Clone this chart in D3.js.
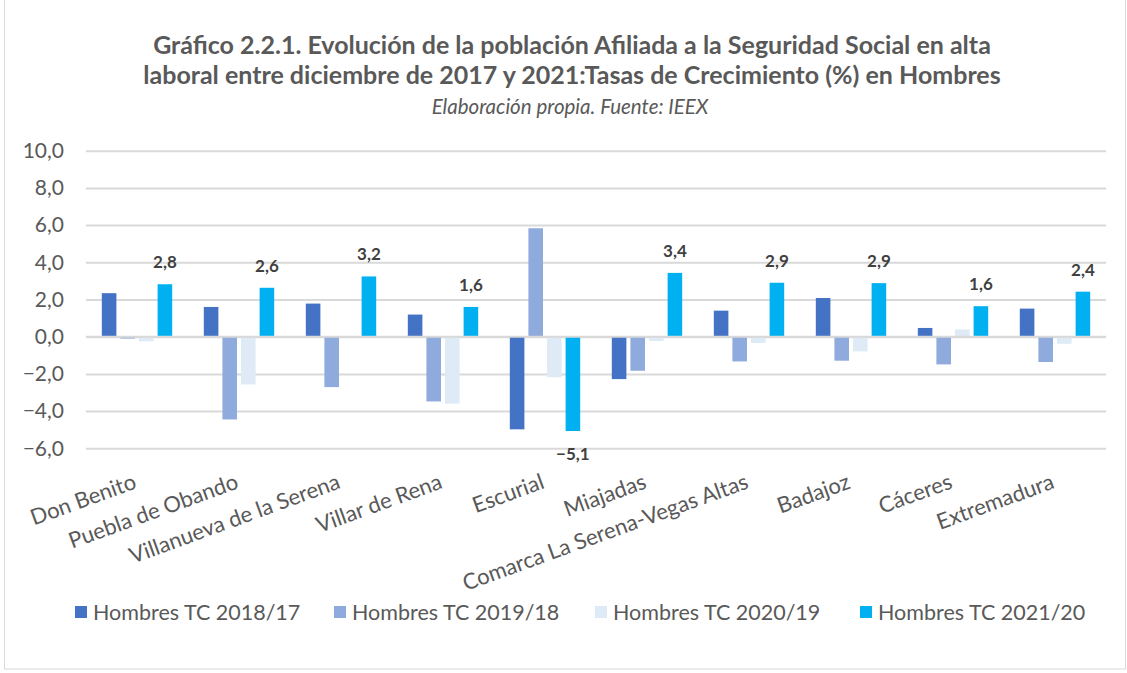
<!DOCTYPE html>
<html lang="es">
<head>
<meta charset="utf-8">
<title>Gráfico 2.2.1</title>
<script src="https://cdn.jsdelivr.net/npm/d3@7"></script>
<style>
  body { margin: 0; background: #fff; }
  svg text { font-family: Lato, "Open Sans", sans-serif; fill: #595959; }
  .grid line { stroke: #d9d9d9; stroke-width: 2; }
  .grid path { display: none; }
</style>
</head>
<body>
<script>
// data
var categories = ["Don Benito", "Puebla de Obando", "Villanueva de la Serena", "Villar de Rena",
  "Escurial", "Miajadas", "Comarca La Serena-Vegas Altas", "Badajoz", "Cáceres", "Extremadura"];
var seriesNames = ["Hombres TC 2018/17", "Hombres TC 2019/18", "Hombres TC 2020/19", "Hombres TC 2021/20"];
var tc2018 = [2.34, 1.6, 1.78, 1.19, -4.98, -2.28, 1.4, 2.08, 0.47, 1.51];
var tc2019 = [-0.1, -4.45, -2.71, -3.48, 5.83, -1.83, -1.33, -1.29, -1.49, -1.36];
var tc2020 = [-0.25, -2.57, 0, -3.6, -2.18, -0.23, -0.34, -0.79, 0.39, -0.38];
var tc2021 = [2.82, 2.63, 3.24, 1.6, -5.07, 3.43, 2.9, 2.88, 1.64, 2.42];
var yTicks = [-6, -4, -2, 0, 2, 4, 6, 8, 10];
var colors = ["#4472c4", "#8faadc", "#deebf7", "#00b0f0"];

var allSeries = [tc2018, tc2019, tc2020, tc2021];

var w = 1127, h = 673;
var plotL = 86, plotR = 1106, plotT = 150.7, plotB = 448.3;

var svg = d3.select("body").append("svg")
  .attr("width", w).attr("height", h);

// chart border
svg.append("rect")
  .attr("x", 4.5).attr("y", -1).attr("width", w - 6).attr("height", h - 3)
  .attr("fill", "none").attr("stroke", "#d9d9d9");

var fmt = function(v) { return d3.format(".1f")(v).replace(".", ","); };

var x0 = d3.scaleBand().domain(categories).range([plotL, plotR])
  .paddingInner(0.31).paddingOuter(0.155);
var x1 = d3.scaleBand().domain(d3.range(4)).range([0, x0.bandwidth()])
  .paddingInner(0.216);
var y = d3.scaleLinear().domain([-6, 10]).range([plotB, plotT]);

// gridlines
svg.append("g").attr("class", "grid")
  .attr("transform", "translate(" + plotL + ",0)")
  .call(d3.axisLeft(y).tickValues(yTicks).tickSize(-(plotR - plotL)).tickFormat(""));

// y labels
svg.append("g").selectAll("text")
  .data(yTicks).enter().append("text")
  .attr("x", 64).attr("y", function(d) { return y(d); })
  .attr("dy", "0.35em")
  .attr("text-anchor", "end")
  .attr("font-size", "21px")
  .text(fmt);

// bars
var groups = svg.append("g").selectAll("g")
  .data(categories).enter().append("g")
  .attr("transform", function(d) { return "translate(" + x0(d) + ",0)"; });

groups.selectAll("rect")
  .data(function(d, i) { return allSeries.map(function(s, k) { return { k: k, v: s[i] }; }); })
  .enter().append("rect")
  .attr("x", function(d) { return x1(d.k); })
  .attr("width", x1.bandwidth())
  .attr("y", function(d) { return y(Math.max(0, d.v)); })
  .attr("height", function(d) { return Math.abs(y(d.v) - y(0)); })
  .attr("fill", function(d) { return colors[d.k]; });

// zero line on top
svg.append("line")
  .attr("x1", plotL).attr("x2", plotR)
  .attr("y1", y(0)).attr("y2", y(0))
  .attr("stroke", "#d9d9d9").attr("stroke-width", 2);

// data labels (2021/20 only)
svg.append("g").selectAll("text")
  .data(tc2021).enter().append("text")
  .attr("x", function(d, i) { return x0(categories[i]) + x1(3) + x1.bandwidth() / 2; })
  .attr("y", function(d) { return d >= 0 ? y(d) - 16 : y(d) + 29; })
  .attr("text-anchor", "middle")
  .attr("font-size", "17px")
  .attr("font-weight", "bold")
  .style("fill", "#404040")
  .text(fmt);

// category labels
svg.append("g").selectAll("text")
  .data(categories).enter().append("text")
  .attr("transform", function(d) {
    return "translate(" + (x0(d) + x0.bandwidth() / 2 - 5) + "," + (plotB + 24) + ") rotate(-20)";
  })
  .attr("dy", "0.75em")
  .attr("text-anchor", "end")
  .attr("font-size", "22px")
  .text(function(d) { return d; });

// title
var title = svg.append("text")
  .attr("x", 572).attr("text-anchor", "middle")
  .attr("font-size", "25px").attr("font-weight", "bold");
title.append("tspan").attr("x", 572).attr("y", 54)
  .text("Gráfico 2.2.1. Evolución de la población Afiliada a la Seguridad Social en alta");
title.append("tspan").attr("x", 572).attr("y", 84)
  .text("laboral entre diciembre de 2017 y 2021:Tasas de Crecimiento (%) en Hombres");
svg.append("text")
  .attr("x", 570).attr("y", 114).attr("text-anchor", "middle")
  .attr("font-size", "20.5px").attr("font-style", "italic")
  .text("Elaboración propia. Fuente: IEEX");

// legend
var legendX = [75, 334, 595, 860];
var legend = svg.append("g").selectAll("g")
  .data(seriesNames).enter().append("g")
  .attr("transform", function(d, i) { return "translate(" + legendX[i] + ",612)"; });
legend.append("rect")
  .attr("x", 0).attr("y", -6).attr("width", 12).attr("height", 12)
  .attr("fill", function(d, i) { return colors[i]; });
legend.append("text")
  .attr("x", 18).attr("dy", "0.35em")
  .attr("font-size", "21.5px")
  .text(function(d) { return d; });
</script>
</body>
</html>
